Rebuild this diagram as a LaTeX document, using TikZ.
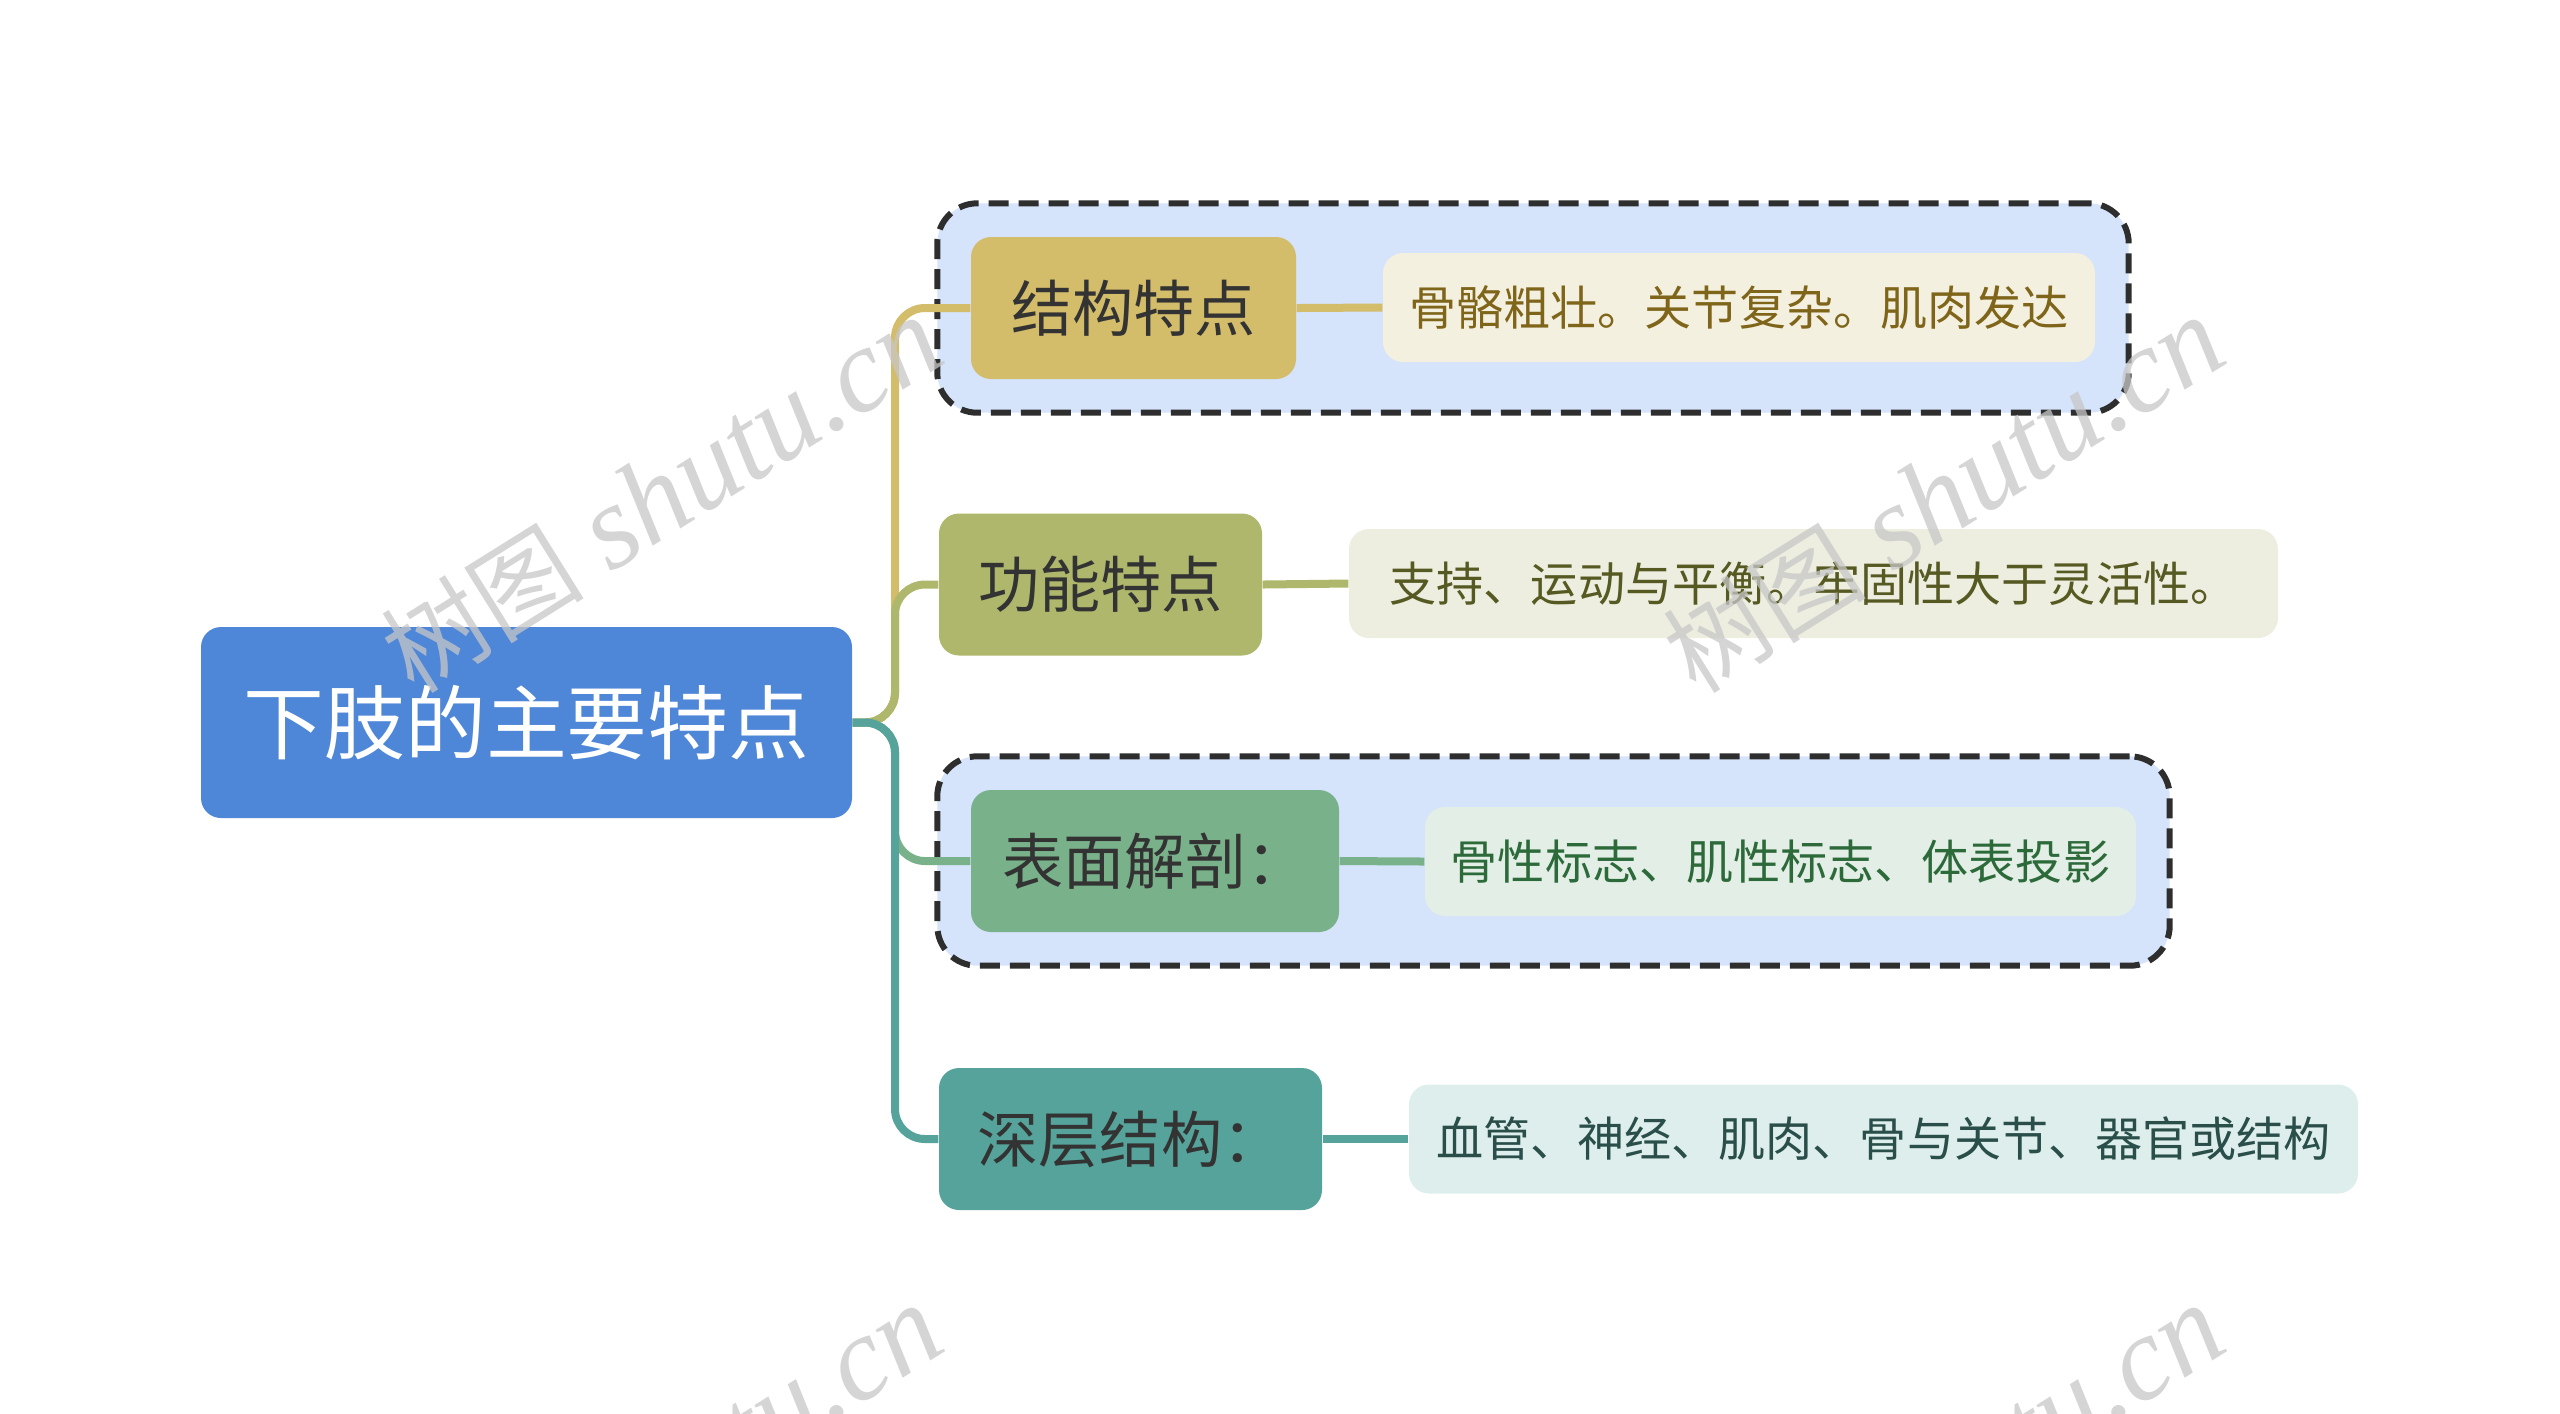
\documentclass[tikz,border=0pt]{standalone}
\usepackage{fontspec}
\setmainfont{Noto Sans CJK SC}
\newfontfamily\wmfont{Liberation Serif}
\usetikzlibrary{fit,backgrounds}
\definecolor{rootblue}{HTML}{4E86D8}
\definecolor{goldc}{HTML}{D3BC6A}
\definecolor{olivec}{HTML}{AEB76B}
\definecolor{greenc}{HTML}{79B18A}
\definecolor{tealc}{HTML}{55A39A}
\definecolor{leafa}{HTML}{F4F0DF}
\definecolor{leafb}{HTML}{EDEEE0}
\definecolor{leafc}{HTML}{E3EEE6}
\definecolor{leafd}{HTML}{DEEEEC}
\definecolor{texta}{HTML}{7E651A}
\definecolor{textb}{HTML}{565A22}
\definecolor{textc}{HTML}{2C6A3A}
\definecolor{textd}{HTML}{2A4F4B}
\definecolor{boxfill}{HTML}{D5E3FB}
\definecolor{dashc}{HTML}{2E2E2E}
\newcommand{\wmtext}{{\fontsize{29}{34}\selectfont 树图} {\wmfont\itshape shutu.cn}}
\tikzset{
  rootbox/.style={fill=rootblue,text=white,rounded corners=0.2cm,minimum width=6.51cm,minimum height=1.91cm,font=\fontsize{23}{28}\selectfont},
  branchbox/.style={fill=#1,text=black!80,rounded corners=0.2cm,minimum height=1.42cm,font=\fontsize{17.4}{21}\selectfont},
  leafbox/.style={rounded corners=0.2cm,minimum height=1.09cm,font=\fontsize{13.4}{16}\selectfont},
  conn/.style={draw=#1,line width=0.08cm,rounded corners=0.3cm},
  groupbox/.style={fill=boxfill,draw=dashc,line width=0.06cm,dash pattern=on 0.2cm off 0.1cm,rounded corners=0.4cm,inner sep=0.33cm},
  wmark/.style={text=black!22,opacity=0.75,rotate=32,inner sep=0pt,font=\fontsize{34}{40}\selectfont}
}
\begin{document}
\begin{tikzpicture}
  \useasboundingbox (0,0) rectangle (25.6,-14.13);
  \node[rootbox] (root) at (5.265,-7.225) {下肢的主要特点};
  \node[branchbox=goldc,minimum width=3.25cm] (b1) at (11.335,-3.08) {结构特点};
  \node[branchbox=olivec,minimum width=3.23cm] (b2) at (11.005,-5.845) {功能特点};
  \node[branchbox=greenc,minimum width=3.68cm] (b3) at (11.55,-8.61) {表面解剖：};
  \node[branchbox=tealc,minimum width=3.83cm] (b4) at (11.305,-11.39) {深层结构：};
  \node[leafbox,fill=leafa,text=texta,minimum width=7.12cm] (l1) at (17.39,-3.075) {骨骼粗壮。关节复杂。肌肉发达};
  \node[leafbox,fill=leafb,text=textb,minimum width=9.29cm] (l2) at (18.135,-5.835) {支持、运动与平衡。牢固性大于灵活性。};
  \node[leafbox,fill=leafc,text=textc,minimum width=7.11cm] (l3) at (17.805,-8.615) {骨性标志、肌性标志、体表投影};
  \node[leafbox,fill=leafd,text=textd,minimum width=9.49cm] (l4) at (18.835,-11.39) {血管、神经、肌肉、骨与关节、器官或结构};
  \begin{scope}[on background layer]
    \node[groupbox,fit=(b1)(l1)] (g1) {};
    \node[groupbox,fit=(b3)(l3)] (g3) {};
  \end{scope}
  \coordinate (hub) at (8.95,-7.225);
  \draw[conn=goldc] (root.east) -- (hub) |- (b1.west);
  \draw[conn=olivec] (root.east) -- (hub) |- (b2.west);
  \draw[conn=greenc] (root.east) -- (hub) |- (b3.west);
  \draw[conn=tealc] (root.east) -- (hub) |- (b4.west);
  \draw[conn=goldc] (b1.east) -- (l1.west);
  \draw[conn=olivec] (b2.east) -- (l2.west);
  \draw[conn=greenc] (b3.east) -- (l3.west);
  \draw[conn=tealc] (b4.east) -- (l4.west);
  \begin{scope}
    \clip (0,0) rectangle (25.6,-14.13);
    \node[wmark] (w1) at (6.62,-4.95) {\wmtext};
    \node[wmark] (w2) at (19.44,-4.95) {\wmtext};
    \node[wmark] (w3) at (6.62,-14.83) {\wmtext};
    \node[wmark] (w4) at (19.44,-14.83) {\wmtext};
  \end{scope}
\end{tikzpicture}
\end{document}
